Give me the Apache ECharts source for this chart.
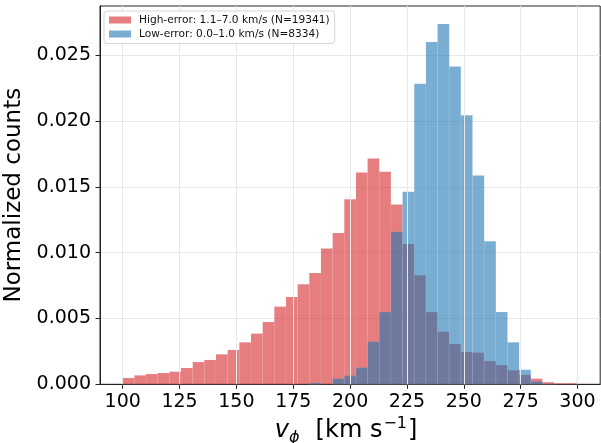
<!DOCTYPE html>
<html>
<head>
<meta charset="utf-8">
<title>Azimuthal velocity distribution</title>
<script src="https://cdn.jsdelivr.net/npm/echarts@6/dist/echarts.min.js"></script>
<style>
  html, body { margin: 0; padding: 0; background: #ffffff; }
  #chart { width: 601px; height: 443px; }
</style>
</head>
<body>
<div id="chart"></div>
<script>
// Histogram binning shared by both samples: 39 equal bins over 100–300 km/s
const binStart = 100;
const binEnd = 300;
const binCount = 39;

// Normalized counts (density) per bin, high-error sample
const highErrorDensity = [
  0.00048, 0.00068, 0.00078, 0.00086, 0.00096, 0.00124, 0.00169, 0.00185,
  0.00228, 0.00261, 0.00319, 0.00385, 0.00473, 0.00590, 0.00663, 0.00759,
  0.00845, 0.01032, 0.01149, 0.01405, 0.01608, 0.01715, 0.01614, 0.01366,
  0.01066, 0.00828, 0.00550, 0.00400, 0.00306, 0.00245, 0.00240, 0.00176,
  0.00146, 0.00106, 0.00071, 0.00043, 0.00016, 0.00008, 0.00008
];

// Normalized counts (density) per bin, low-error sample
const lowErrorDensity = [
  0, 0, 0, 0, 0, 0, 0, 0,
  0, 0, 0, 0, 0, 0, 0, 0,
  0.00010, 0, 0.00043, 0.00066, 0.00127, 0.00324, 0.00550, 0.01158,
  0.01462, 0.02282, 0.02599, 0.02736, 0.02414, 0.02044, 0.01586, 0.01087,
  0.00550, 0.00319, 0.00111, 0.00022, 0.00004, 0, 0
];

const seriesNames = [
  'High-error: 1.1\u20137.0 km/s (N=19341)',
  'Low-error: 0.0\u20131.0 km/s (N=8334)'
];

const xTicks = [100, 125, 150, 175, 200, 225, 250, 275, 300];
const yTicks = [0, 0.005, 0.010, 0.015, 0.020, 0.025];

const FONT = 'DejaVu Sans';

// bin edges
const binWidth = (binEnd - binStart) / binCount;
const edges = [];
for (let i = 0; i <= binCount; i++) edges.push(binStart + i * binWidth);

function toBins(values) {
  return values.map((v, i) => [edges[i], edges[i + 1], v]);
}

function histRenderer(fill) {
  return function (params, api) {
    const x0 = api.value(0), x1 = api.value(1), h = api.value(2);
    if (!(h > 0)) return null;
    const topLeft = api.coord([x0, h]);
    const bottomRight = api.coord([x1, 0]);
    return {
      type: 'rect',
      shape: {
        x: topLeft[0],
        y: topLeft[1],
        width: bottomRight[0] - topLeft[0],
        height: bottomRight[1] - topLeft[1]
      },
      style: { fill: fill, stroke: 'rgba(255,255,255,0.15)', lineWidth: 0.5 }
    };
  };
}

const redFill = 'rgba(214,39,40,0.6)';
const blueFill = 'rgba(31,119,180,0.6)';

const chart = echarts.init(document.getElementById('chart'), null, { renderer: 'canvas' });

chart.setOption({
  animation: false,
  backgroundColor: '#ffffff',
  textStyle: { fontFamily: FONT },
  grid: {
    left: 100, right: 0.8, top: 6, bottom: 58.7,
    containLabel: false,
    outerBoundsMode: 'none',
    show: true, borderColor: '#222', borderWidth: 1, backgroundColor: 'transparent'
  },
  legend: {
    orient: 'vertical',
    left: 104, top: 11,
    z: 20,
    padding: [3.5, 5, 4, 5],
    itemGap: 3,
    itemWidth: 22, itemHeight: 7,
    icon: 'rect',
    backgroundColor: 'rgba(255,255,255,0.85)',
    borderColor: '#d4d4d4', borderWidth: 1, borderRadius: 3,
    textStyle: { fontFamily: FONT, fontSize: 10.6, color: '#111', padding: [0, 0, 0, 3] },
    data: seriesNames
  },
  xAxis: {
    type: 'value',
    min: 90, max: 310,
    axisLine: { show: true, lineStyle: { color: '#222', width: 1 } },
    axisTick: { show: true, length: 4.5, lineStyle: { color: '#222' }, customValues: xTicks },
    axisLabel: {
      fontFamily: FONT, fontSize: 19, color: '#000', margin: 8,
      customValues: xTicks
    },
    splitLine: { show: false },
    name: '{v|v}{sub|\u03d5}{n|[km s}{sup|\u22121}{n|]}{pad| }',
    nameLocation: 'middle',
    nameGap: 27,
    nameTextStyle: {
      fontFamily: FONT,
      rich: {
        v: { fontFamily: FONT, fontStyle: 'italic', fontSize: 24, color: '#000', lineHeight: 30, verticalAlign: 'middle' },
        n: { fontFamily: FONT, fontSize: 24, color: '#000', lineHeight: 30, verticalAlign: 'middle' },
        sub: { fontFamily: FONT, fontStyle: 'italic', fontSize: 16, color: '#000', lineHeight: 14, verticalAlign: 'bottom', padding: [0, 16, 0, 0] },
        sup: { fontFamily: FONT, fontSize: 16, color: '#000', lineHeight: 15, verticalAlign: 'top', padding: [0, 1, 0, 1] },
        pad: { fontSize: 8, width: 8 }
      }
    }
  },
  yAxis: {
    type: 'value',
    min: 0, max: 0.02873,
    interval: 0.005,
    axisLine: { show: true, lineStyle: { color: '#222', width: 1 } },
    axisTick: { show: true, length: 4.5, lineStyle: { color: '#222' }, customValues: yTicks },
    axisLabel: {
      fontFamily: FONT, fontSize: 19, color: '#000', margin: 9,
      customValues: yTicks,
      formatter: v => v.toFixed(3)
    },
    splitLine: { show: true, lineStyle: { color: '#e8e8e8', width: 1 } },
    name: 'Normalized counts',
    nameLocation: 'middle',
    nameRotate: 90,
    nameGap: 59,
    nameTextStyle: { fontFamily: FONT, fontSize: 23, color: '#000' }
  },
  series: [
    {
      // vertical grid lines at the major x ticks
      type: 'line',
      data: [],
      z: 1,
      silent: true,
      markLine: {
        silent: true,
        symbol: 'none',
        label: { show: false },
        lineStyle: { color: '#e8e8e8', type: 'solid', width: 1 },
        data: xTicks.map(v => ({ xAxis: v }))
      }
    },
    {
      name: seriesNames[0],
      type: 'custom',
      z: 2,
      itemStyle: { color: redFill },
      renderItem: histRenderer(redFill),
      encode: { x: [0, 1], y: 2 },
      data: toBins(highErrorDensity)
    },
    {
      name: seriesNames[1],
      type: 'custom',
      z: 3,
      itemStyle: { color: blueFill },
      renderItem: histRenderer(blueFill),
      encode: { x: [0, 1], y: 2 },
      data: toBins(lowErrorDensity)
    }
  ]
});
</script>
</body>
</html>
